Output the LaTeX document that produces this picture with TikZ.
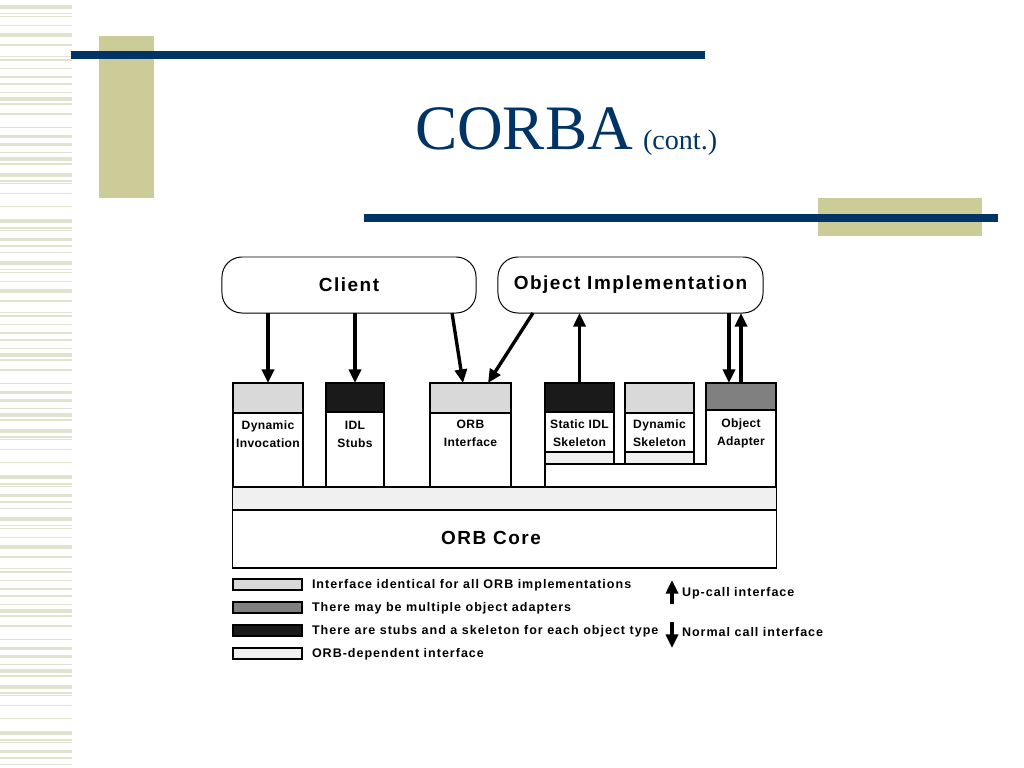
\documentclass[tikz,border=0pt]{standalone}
\usepackage{fontspec}
\setmainfont{Liberation Serif}
\newfontfamily\diagfont{Liberation Sans}[LetterSpace=8]
\newfontfamily\unitfont{Liberation Sans}[LetterSpace=3]
\usetikzlibrary{arrows.meta,calc}
\definecolor{navy}{RGB}{0,51,102}
\definecolor{tan}{RGB}{204,204,153}
\definecolor{stripe}{RGB}{226,226,208}
\definecolor{ifgray}{RGB}{217,217,217}
\definecolor{oagray}{RGB}{128,128,128}
\definecolor{stubblack}{RGB}{26,26,26}
\definecolor{orbdep}{RGB}{240,240,240}

\begin{document}
\begin{tikzpicture}[x=0.0250cm,y=-0.0250cm]
	\tikzstyle{every node}=[inner sep=0pt,outer sep=0pt]
	\tikzstyle{pill}=[draw,line width=0.7pt,rounded corners=0.5cm,font=\diagfont\bfseries\fontsize{13.5}{16}\selectfont]
	\tikzstyle{unit}=[draw,line width=0.8pt,fill=white]
	\tikzstyle{unitlbl}=[align=center,font=\unitfont\bfseries\fontsize{8.6}{12.8}\selectfont]
	\tikzstyle{swatch}=[draw,line width=0.8pt,minimum width=1.725cm,minimum height=0.275cm]
	\tikzstyle{legend}=[anchor=west,font=\diagfont\bfseries\fontsize{8.9}{10}\selectfont]
	\tikzstyle{call}=[line width=2.4pt,-{Triangle[length=0.34cm,width=0.3cm]}]

	\useasboundingbox (0,0) rectangle (1024,768);
	\fill[white] (0,0) rectangle (1024,768);

	% slide decoration
	\foreach \off in {0,256,512} {
		\foreach \ya/\yb in {5/9,13/14,16/17,25/26,33/37,44/46,56/57,59/61,68/69,76/78,83/85,92/93,97/101,103/105,113/115,127/128,135/138,143/146,152/153,157/161,163/165,173/177,180/182,183/184,193/194,206/207,219/223,227/229,230/231,238/241,245/247,252/253} {
			\fill[stripe] (0,\ya+\off) rectangle (72,\yb+\off);
		}
	}
	\fill[tan] (99,36) rectangle (154,198);
	\fill[navy] (71,51) rectangle (705,59);
	\fill[tan] (818,198) rectangle (982,236);
	\fill[navy] (364,214) rectangle (998,222);
	\node [anchor=base west,text=navy,font=\fontsize{45}{50}\selectfont] (title) at (415,150) {CORBA};
	\node [anchor=base west,text=navy,font=\fontsize{20}{24}\selectfont] (cont) at (643,150) {(cont.)};

	% clients and servers
	\node [pill,minimum width=6.35cm,minimum height=1.4cm] (client) at (349,285) {Client};
	\node [pill,minimum width=6.625cm,minimum height=1.4cm] (oi) at (630.5,285) {Object Implementation};

	% ORB
	\node [unit,minimum width=13.575cm,minimum height=1.45cm] (core) at (504.5,539) {};
	\node [font=\diagfont\bfseries\fontsize{13.5}{16}\selectfont] (corelbl) at (491,538) {ORB Core};
	\node [unit,fill=orbdep,minimum width=13.575cm,minimum height=0.575cm] (orbbar) at (504.5,498.5) {};

	\node [unit,minimum width=1.75cm,minimum height=2.6cm] (dinv) at (268,435) {};
	\node [unit,fill=ifgray,minimum width=1.75cm,minimum height=0.75cm] (dinvtop) at (268,398) {};
	\node [unitlbl] (dinvlbl) at (268,434) {Dynamic\\Invocation};

	\node [unit,minimum width=1.45cm,minimum height=2.6cm] (stubs) at (355,435) {};
	\node [unit,fill=stubblack,minimum width=1.45cm,minimum height=0.725cm] (stubstop) at (355,397.5) {};
	\node [unitlbl] (stubslbl) at (355,434) {IDL\\Stubs};

	\node [unit,minimum width=2.025cm,minimum height=2.6cm] (orbi) at (470.5,435) {};
	\node [unit,fill=ifgray,minimum width=2.025cm,minimum height=0.75cm] (orbitop) at (470.5,398) {};
	\node [unitlbl] (orbilbl) at (470.5,433) {ORB\\Interface};

	\draw [unit] (706,383) -- (776,383) -- (776,487) -- (545,487) -- (545,464) -- (706,464) -- cycle;
	\node [unit,fill=oagray,minimum width=1.75cm,minimum height=0.675cm] (oatop) at (741,396.5) {};
	\node [unitlbl] (oalbl) at (741,433) {Object\\Adapter};

	\node [unit,minimum width=1.725cm,minimum height=2.025cm] (sidl) at (579.5,423.5) {};
	\node [unit,fill=stubblack,minimum width=1.725cm,minimum height=0.725cm] (sidltop) at (579.5,397.5) {};
	\node [unit,fill=orbdep,minimum width=1.725cm,minimum height=0.3cm] (sidlfoot) at (579.5,458) {};
	\node [unitlbl] (sidllbl) at (579.5,433) {Static IDL\\Skeleton};

	\node [unit,minimum width=1.725cm,minimum height=2.025cm] (dskel) at (659.5,423.5) {};
	\node [unit,fill=ifgray,minimum width=1.725cm,minimum height=0.75cm] (dskeltop) at (659.5,398) {};
	\node [unit,fill=orbdep,minimum width=1.725cm,minimum height=0.3cm] (dskelfoot) at (659.5,458) {};
	\node [unitlbl] (dskellbl) at (659.5,433) {Dynamic\\Skeleton};

	% calls
	\draw [call] (client.south -| dinvtop.north) -- (dinvtop.north);
	\draw [call] (client.south -| stubstop.north) -- (stubstop.north);
	\draw [call] ($(client.south east)+(-24,0)$) -- ($(orbitop.north west)+(33,0)$);
	\draw [call] ($(oi.south west)+(35,0)$) -- ($(orbitop.north west)+(58,0)$);
	\draw [call] (sidltop.north) -- (oi.south -| sidltop.north);
	\draw [call] (oi.south -| {$(oatop.north)+(-12,0)$}) -- ($(oatop.north)+(-12,0)$);
	\draw [call] (oatop.north) -- (oi.south -| oatop.north);

	% key
	\node [swatch,fill=ifgray] (keya) at (267.5,584.5) {};
	\node [legend] (keyatxt) at (312,585) {Interface identical for all ORB implementations};
	\node [swatch,fill=oagray] (keyb) at (267.5,607.5) {};
	\node [legend] (keybtxt) at (312,608) {There may be multiple object adapters};
	\node [swatch,fill=stubblack] (keyc) at (267.5,630.5) {};
	\node [legend] (keyctxt) at (312,631) {There are stubs and a skeleton for each object type};
	\node [swatch,fill=orbdep] (keyd) at (267.5,653.5) {};
	\node [legend] (keydtxt) at (312,654) {ORB-dependent interface};

	\coordinate (upfoot) at (672,604);
	\coordinate (uptip) at (672,580);
	\draw [call] (upfoot) -- (uptip);
	\node [legend] (uplbl) at (682,593) {Up-call interface};
	\coordinate (downfoot) at (672,622);
	\coordinate (downtip) at (672,648);
	\draw [call] (downfoot) -- (downtip);
	\node [legend] (downlbl) at (682,632) {Normal call interface};

\end{tikzpicture}
\end{document}
